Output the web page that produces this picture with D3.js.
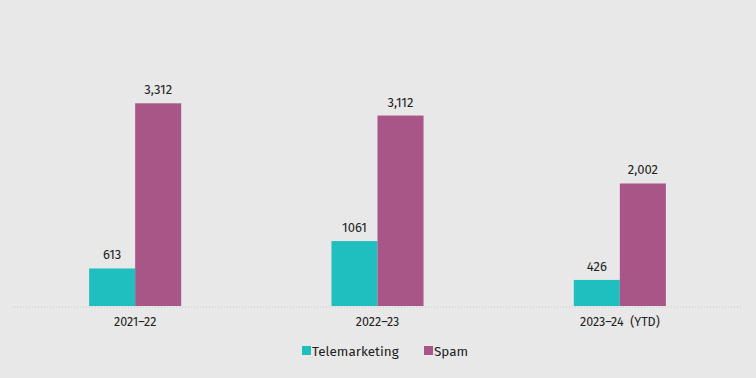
<!DOCTYPE html>
<html>
<head>
<meta charset="utf-8">
<script src="https://cdn.jsdelivr.net/npm/d3@7"></script>
<style>
  body { margin: 0; background: #e8e8e8; }
  text { font-family: "Fira Sans", "Open Sans", "Noto Sans", sans-serif; fill: #222; }
</style>
</head>
<body>
<div id="chart"></div>
<script>
const years = ['2021\u201322', '2022\u201323', '2023\u201324\u00a0\u00a0(YTD)']
const series = ['Telemarketing', 'Spam']
const telemarketing = [613, 1061, 426]
const spam = [3312, 3112, 2002]
const valueLabels = {Telemarketing: ['613', '1061', '426'], Spam: ['3,312', '3,112', '2,002']}
const colors = ['#1fbfbf', '#a85688']

const width = 756,
  height = 378,
  margin = {top: 0, right: 15, bottom: 72, left: 14}

const svg = d3.select('#chart').append('svg')
  .attr('width', width)
  .attr('height', height)

svg.append('rect').attr('width', width).attr('height', height).attr('fill', '#e8e8e8')

const x0 = d3.scaleBand()
  .domain(years)
  .range([margin.left, width - margin.right])
  .paddingInner(0.62)
  .paddingOuter(0.31)
const x1 = d3.scaleBand()
  .domain(series)
  .range([0, x0.bandwidth()])
const y = d3.scaleLinear()
  .domain([0, 5000])
  .range([height - margin.bottom, 0])

const rows = years.map((yr, i) => ({year: yr, values: [
  {key: 'Telemarketing', value: telemarketing[i], label: valueLabels.Telemarketing[i]},
  {key: 'Spam', value: spam[i], label: valueLabels.Spam[i]}
]}))

// dotted baseline
svg.append('line')
  .attr('x1', margin.left).attr('x2', width - margin.right)
  .attr('y1', y(0) + 1).attr('y2', y(0) + 1)
  .attr('stroke', '#c8c8c8')
  .attr('stroke-dasharray', '1,2')

const group = svg.append('g')
  .selectAll('g')
  .data(rows)
  .enter().append('g')
  .attr('transform', d => `translate(${x0(d.year)},0)`)

group.selectAll('rect')
  .data(d => d.values)
  .enter().append('rect')
  .attr('x', d => x1(d.key))
  .attr('y', d => y(d.value))
  .attr('width', x1.bandwidth())
  .attr('height', d => y(0) - y(d.value))
  .attr('fill', (d, i) => colors[i])

group.selectAll('.vlabel')
  .data(d => d.values)
  .enter().append('text')
  .attr('class', 'vlabel')
  .attr('x', d => x1(d.key) + x1.bandwidth() / 2)
  .attr('y', d => y(d.value) - 9)
  .attr('text-anchor', 'middle')
  .style('font-size', '13px')
  .text(d => d.label)

const xAxis = svg.append('g')
  .attr('transform', `translate(0,${y(0)})`)
  .call(d3.axisBottom(x0).tickSize(0).tickPadding(11))
xAxis.select('.domain').remove()
xAxis.selectAll('text')
  .style('font-size', '12.5px')
  .style('font-family', '"Fira Sans", "Open Sans", "Noto Sans", sans-serif')
  .attr('fill', '#222')

// legend
const legend = svg.append('g')
  .attr('transform', 'translate(302,351)')
const items = legend.selectAll('g')
  .data(series)
  .enter().append('g')
  .attr('transform', (d, i) => `translate(${i === 0 ? 0 : 122},0)`)
items.append('rect')
  .attr('x', 0).attr('y', -5)
  .attr('width', 9).attr('height', 9)
  .attr('fill', (d, i) => colors[i])
items.append('text')
  .attr('x', 10).attr('y', 0)
  .attr('dy', '0.35em')
  .style('font-size', '13.5px')
  .text(d => d)
</script>
</body>
</html>
